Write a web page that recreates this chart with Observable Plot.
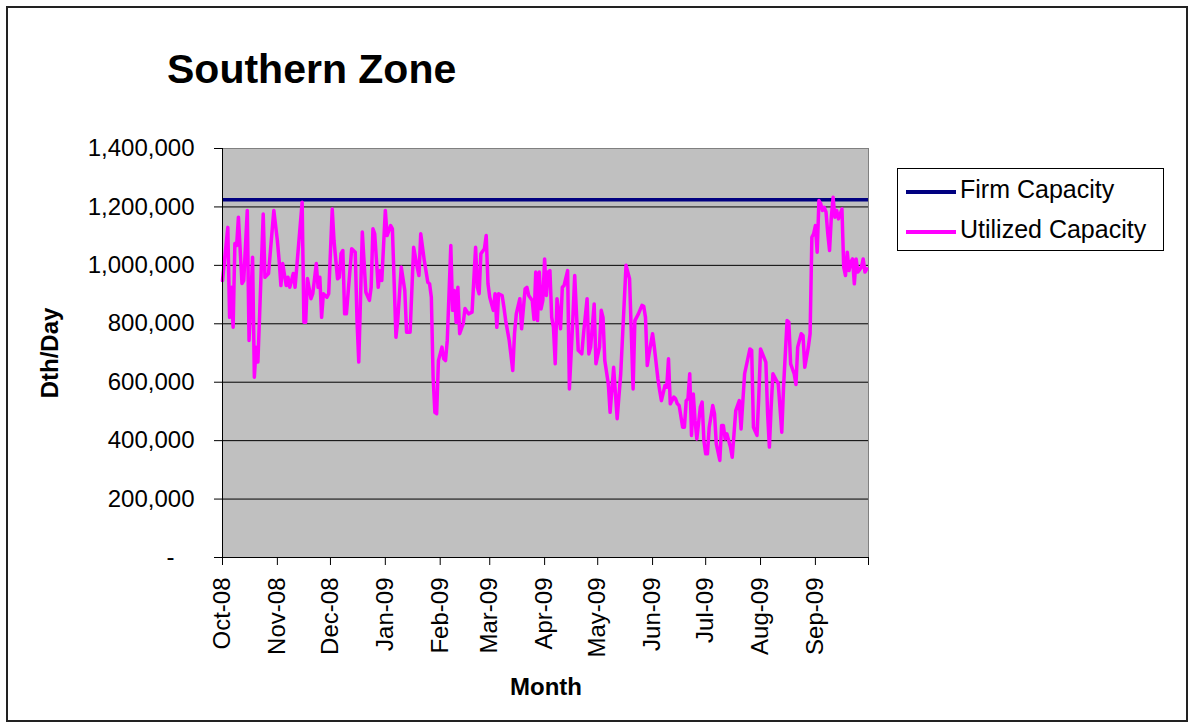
<!DOCTYPE html>
<html><head><meta charset="utf-8">
<script src="https://cdn.jsdelivr.net/npm/d3@7"></script>
<script src="https://cdn.jsdelivr.net/npm/@observablehq/plot@0.6"></script>
<style>
body{margin:0;background:#fff;font-family:"Liberation Sans",Arial,sans-serif;color:#000}
#wrap{position:relative;width:1194px;height:725px;overflow:hidden;background:#fff}
#border{position:absolute;left:6px;top:6px;width:1182px;height:716px;border:2px solid #222;box-sizing:border-box}
#chart{position:absolute;left:0;top:0}
.title{position:absolute;left:167px;top:49px;font-size:41px;line-height:40px;font-weight:bold;white-space:nowrap}
.ytitle{position:absolute;left:50px;top:353px;font-size:24px;line-height:24px;font-weight:bold;white-space:nowrap;transform:translate(-50%,-50%) rotate(-90deg)}
.xtitle{position:absolute;left:546px;top:675px;font-size:24px;line-height:24px;font-weight:bold;white-space:nowrap;transform:translateX(-50%)}
#legend{position:absolute;left:897px;top:168px;width:267px;height:83px;border:1px solid #000;box-sizing:border-box;background:#fff}
.sw{position:absolute;left:8px;width:50px;height:4px}
.lt{position:absolute;left:62px;font-size:25px;line-height:25px;white-space:nowrap}
</style></head><body>
<div id="wrap">
  <div id="border"></div>
  <div id="chart"></div>
  <div class="title">Southern Zone</div>
  <div class="ytitle">Dth/Day</div>
  <div class="xtitle">Month</div>
  <div id="legend">
    <div class="sw" style="top:21px;background:#000080"></div>
    <div class="lt" style="top:8px">Firm Capacity</div>
    <div class="sw" style="top:61px;background:#FF00FF"></div>
    <div class="lt" style="top:48px">Utilized Capacity</div>
  </div>
</div>
<script>
// Days since 1 Oct 2008
const dayOffsets = [0,3,4,5,6,7,8,9,11,12,14,15,17,18,19,20,21,23,24,26,29,31,32,33,34,36,37,38,40,41,45,46,47,48,50,51,53,54,55,56,57,59,60,62,63,65,66,67,68,69,70,73,75,76,77,79,81,83,84,85,86,88,89,90,92,93,95,96,98,99,101,103,104,106,108,110,111,112,114,116,117,118,119,120,121,122,124,125,126,127,129,130,131,132,133,134,136,137,139,141,143,144,145,146,148,149,150,151,153,154,155,156,158,159,160,162,164,165,166,168,169,171,172,173,175,176,177,178,179,180,181,182,183,184,185,186,187,188,189,191,192,193,195,196,198,199,201,203,204,206,207,208,210,211,213,214,215,216,218,219,221,223,225,228,230,232,233,235,237,238,239,240,241,243,244,246,247,248,250,251,252,253,255,256,257,258,260,261,262,263,264,265,266,267,268,270,271,272,273,274,275,277,278,279,281,282,283,284,285,287,288,290,292,293,295,298,299,300,302,303,304,307,308,309,310,311,313,314,316,317,319,320,321,323,324,325,327,328,329,331,332,333,334,335,336,337,338,339,340,341,342,343,344,345,346,347,348,350,351,352,353,354,355,356,357,358,359,361,362,363,364];
const utilizedCapacity = [948000,1130000,822000,925000,788000,1075000,1068000,1165000,938000,948000,1188000,743000,1028000,617000,720000,669000,835000,1176000,959000,972000,1188000,1085000,1017000,931000,1006000,931000,959000,925000,972000,925000,1216000,805000,805000,955000,886000,903000,1006000,925000,959000,822000,903000,891000,903000,1193000,1085000,954000,959000,1040000,1051000,834000,834000,1057000,1045000,811000,669000,1114000,908000,880000,925000,1125000,1108000,925000,982000,948000,1188000,1102000,1136000,1125000,754000,811000,994000,914000,771000,771000,1062000,994000,965000,1108000,1017000,942000,937000,891000,617000,497000,492000,674000,720000,680000,674000,743000,1068000,846000,914000,805000,925000,766000,800000,852000,834000,840000,1062000,925000,903000,1040000,1057000,1102000,937000,891000,846000,903000,788000,903000,897000,857000,811000,743000,640000,766000,834000,886000,783000,920000,925000,897000,880000,815000,977000,811000,977000,851000,880000,1022000,897000,977000,982000,822000,788000,663000,886000,783000,925000,931000,982000,577000,822000,965000,709000,697000,766000,886000,697000,720000,868000,663000,720000,846000,822000,674000,594000,497000,651000,475000,629000,1000000,954000,577000,811000,834000,863000,860000,822000,657000,697000,766000,720000,612000,572000,537000,589000,583000,680000,526000,549000,543000,526000,520000,446000,446000,537000,543000,629000,418000,560000,469000,406000,515000,532000,400000,355000,355000,446000,520000,492000,389000,332000,452000,452000,406000,423000,378000,343000,503000,537000,440000,629000,714000,709000,446000,418000,549000,714000,669000,492000,378000,515000,629000,606000,595000,429000,583000,811000,806000,663000,629000,592000,720000,766000,760000,651000,720000,766000,1096000,1108000,1136000,1045000,1222000,1211000,1188000,1199000,1182000,1108000,1051000,1165000,1233000,1165000,1188000,1159000,1193000,994000,965000,1045000,982000,1011000,1022000,937000,1022000,977000,994000,1022000,977000,988000];
const firmCapacity = 1225000;
const monthLabels = ["Oct-08","Nov-08","Dec-08","Jan-09","Feb-09","Mar-09","Apr-09","May-09","Jun-09","Jul-09","Aug-09","Sep-09",""];
const yTicks = [0,200000,400000,600000,800000,1000000,1200000,1400000];

const start = new Date(2008, 9, 1);
const end = new Date(2009, 9, 1);
const data = dayOffsets.map((d, i) => ({date: d3.timeDay.offset(start, d), value: utilizedCapacity[i]}));
const monthDates = d3.timeMonth.range(start, d3.timeDay.offset(end, 1));
const labelMap = new Map(monthDates.map((d, i) => [+d, monthLabels[i] ?? ""]));
const fmt = d3.format(",");

const chart = Plot.plot({
  width: 1194, height: 725,
  marginLeft: 222, marginTop: 148, marginRight: 326, marginBottom: 168,
  style: {fontFamily: '"Liberation Sans", Arial, sans-serif', fontSize: "24px", color: "#000", background: "transparent"},
  x: {type: "time", domain: [start, end]},
  y: {domain: [0, 1400000]},
  marks: [
    Plot.frame({fill: "#C0C0C0", stroke: "#808080"}),
    Plot.ruleY(yTicks.slice(1, -1), {stroke: "#000", strokeWidth: 1}),
    Plot.ruleY([firmCapacity], {stroke: "#000080", strokeWidth: 3.5}),
    Plot.line(data, {x: "date", y: "value", stroke: "#FF00FF", strokeWidth: 3.5, strokeLinejoin: "round"}),
    Plot.axisY({ticks: yTicks, tickFormat: d => d === 0 ? "-\u00a0\u00a0\u00a0" : fmt(d), tickSize: 8, tickPadding: 20, label: null, stroke: "#000"}),
    Plot.axisX({ticks: monthDates, tickFormat: d => labelMap.get(+d) ?? "", tickRotate: -90, tickSize: 8, tickPadding: 12, label: null, stroke: "#000"}),
    Plot.ruleX([start], {stroke: "#000", strokeWidth: 1}),
    Plot.ruleY([0], {stroke: "#000", strokeWidth: 1})
  ]
});
document.getElementById("chart").appendChild(chart);
</script>
</body></html>
